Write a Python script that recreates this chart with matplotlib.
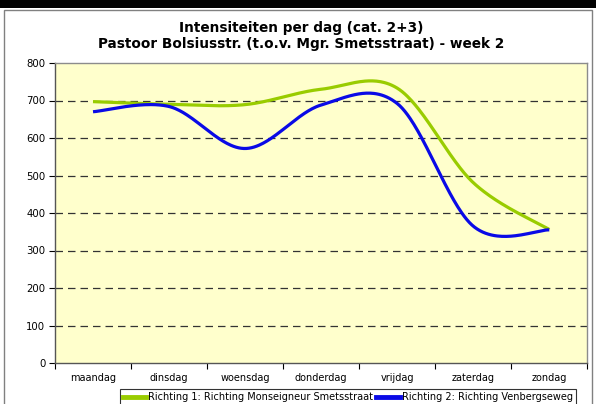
import numpy as np
import matplotlib
matplotlib.use("Agg")
import matplotlib.pyplot as plt
from matplotlib.patches import Rectangle
from matplotlib.lines import Line2D

days = ["maandag", "dinsdag", "woensdag", "donderdag", "vrijdag", "zaterdag", "zondag"]
richting1 = [697, 690, 689, 730, 733, 481, 356]
richting2 = [670, 684, 572, 688, 692, 365, 355]
series_names = ["Richting 1: Richting Monseigneur Smetsstraat",
                "Richting 2: Richting Venbergseweg"]
series_colors = ["#99CC00", "#0A0AE6"]
title = "Intensiteiten per dag (cat. 2+3)\nPastoor Bolsiusstr. (t.o.v. Mgr. Smetsstraat) - week 2"
yticks = [0, 100, 200, 300, 400, 500, 600, 700, 800]


def smooth(xs, ys, n=60):
    """Cubic Bezier smoothing through every point (Catmull-Rom style)."""
    P = np.column_stack([xs, ys]).astype(float)
    m = len(P)
    out = []
    t = np.linspace(0, 1, n)[:, None]
    for i in range(m - 1):
        p0 = P[i]
        p3 = P[i + 1]
        pm = P[i - 1] if i > 0 else P[i]
        pp = P[i + 2] if i + 2 < m else P[i + 1]
        c1 = p0 + (p3 - pm) / 6.0
        c2 = p3 - (pp - p0) / 6.0
        seg = ((1 - t) ** 3) * p0 + 3 * t * (1 - t) ** 2 * c1 + 3 * t ** 2 * (1 - t) * c2 + t ** 3 * p3
        out.append(seg if i == 0 else seg[1:])
    out = np.vstack(out)
    return out[:, 0], out[:, 1]


W, H = 596, 404
fig = plt.figure(figsize=(W / 100, H / 100), dpi=100)
fig.patch.set_facecolor("white")

# top black band and chart frame
fig.add_artist(Rectangle((0, 1 - 8 / H), 1, 8 / H, transform=fig.transFigure,
                         facecolor="black", edgecolor="none"))
fig.add_artist(Rectangle((4 / W, -0.05), (592 - 4) / W, 1.05 - 10 / H, transform=fig.transFigure,
                         facecolor="none", edgecolor="#808080", linewidth=1))

left, right, top, bottom = 55, 587.3, 63, 363
ax = fig.add_axes([left / W, 1 - bottom / H, (right - left) / W, (bottom - top) / H])
ax.set_facecolor("#FFFFCC")

xpos = np.arange(len(days)) + 0.5
for vals, col, name in zip([richting1, richting2], series_colors, series_names):
    sx, sy = smooth(xpos, vals)
    ax.plot(sx, sy, color=col, lw=2.3, solid_capstyle="butt", label=name)

ax.set_xlim(0, len(days))
ax.set_ylim(0, 800)
ax.set_yticks(yticks)
ax.set_yticklabels([str(v) for v in yticks])
ax.set_xticks(np.arange(len(days) + 1))
ax.set_xticklabels([])
ax.set_xticks(xpos, minor=True)
ax.set_xticklabels(days, minor=True)
ax.tick_params(axis="x", which="minor", length=0, pad=7, labelsize=7)
ax.tick_params(axis="x", which="major", length=4, width=0.8, direction="out")
ax.tick_params(axis="y", length=4, width=0.8, direction="out", labelsize=7.3, pad=3)

for v in yticks[1:-1]:
    ax.axhline(v, color="#333333", lw=0.9, dashes=(6, 4), zorder=1)

for s in ["left", "bottom"]:
    ax.spines[s].set_color("#555555")
    ax.spines[s].set_linewidth(1)
for s in ["top", "right"]:
    ax.spines[s].set_color("#8C8C8C")
    ax.spines[s].set_linewidth(1)

fig.text(0.505, 1 - 21 / H, title, ha="center", va="top", fontsize=9.8,
         fontweight="bold", linespacing=1.2)

handles = [Line2D([], [], color=c, lw=3.5) for c in series_colors]
leg = fig.legend(handles, series_names, loc="upper left",
                 bbox_to_anchor=(120 / W, 1 - 389 / H), ncol=2, fontsize=7.05,
                 handlelength=2.4, handletextpad=0.2, columnspacing=0.3,
                 borderpad=0.3, borderaxespad=0, frameon=True, fancybox=False)
leg.get_frame().set_edgecolor("black")
leg.get_frame().set_linewidth(0.8)

fig.savefig("out.png", dpi=100)
